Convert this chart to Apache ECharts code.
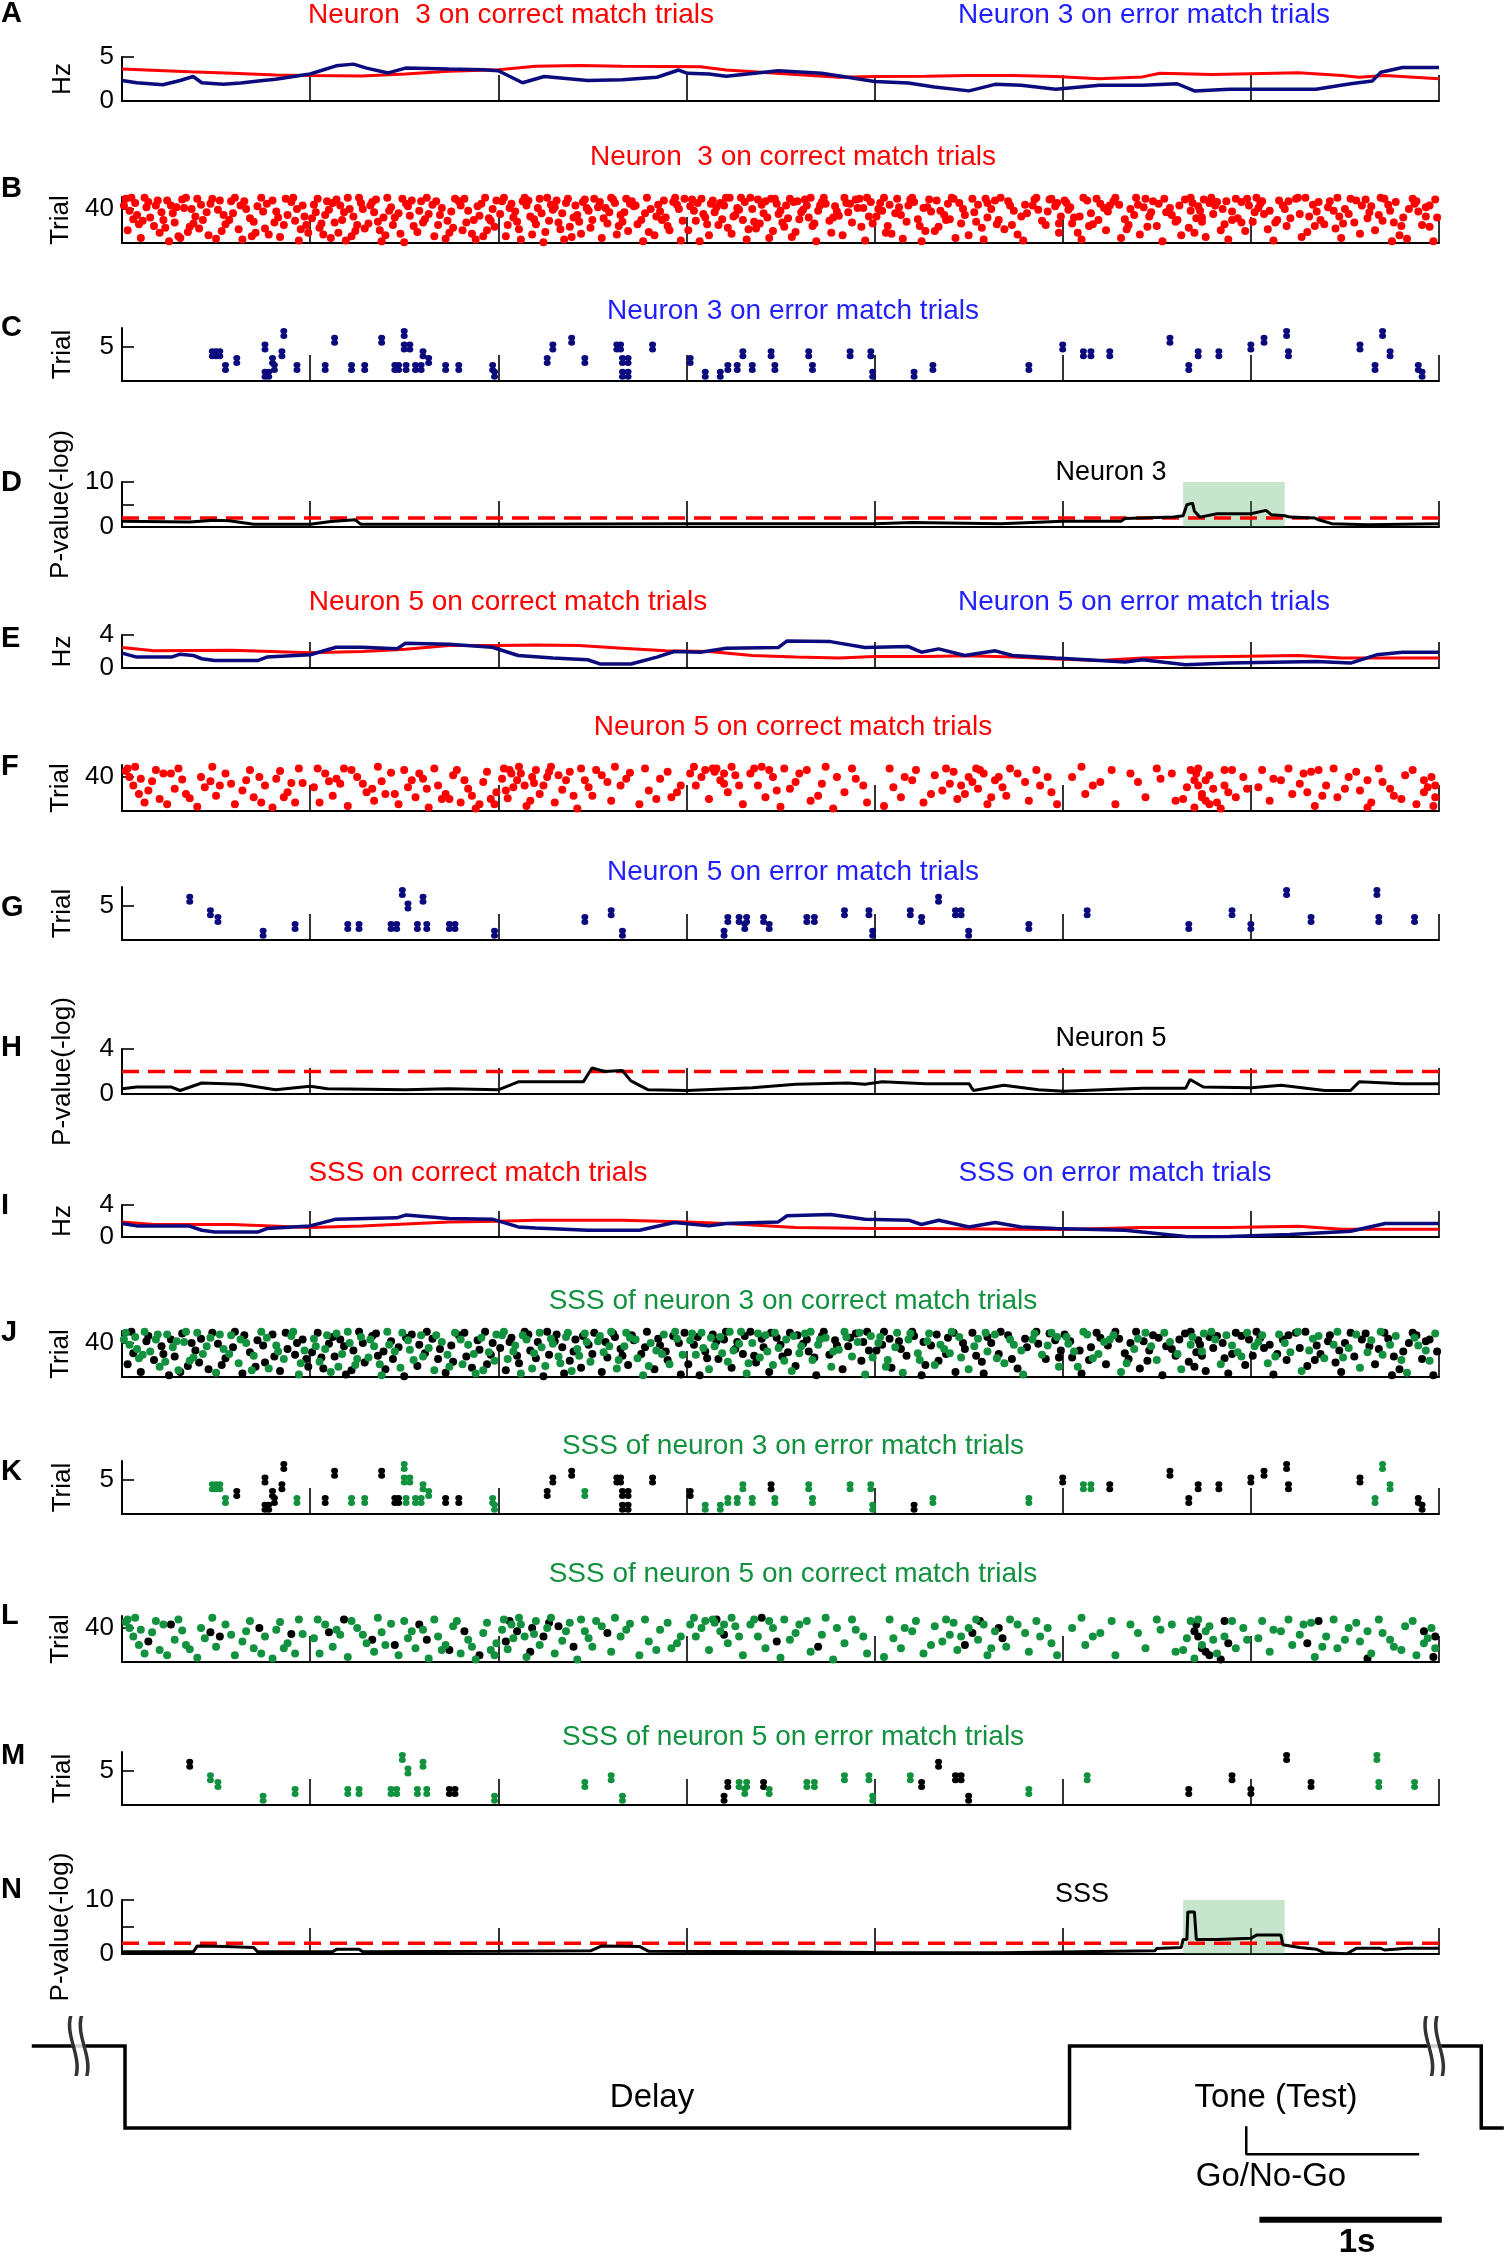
<!DOCTYPE html>
<html><head><meta charset="utf-8">
<script src="https://cdn.jsdelivr.net/npm/echarts@6/dist/echarts.min.js"></script>
<style>html,body{margin:0;padding:0;background:#fff}#c{width:1504px;height:2256px}</style>
</head><body><div id="c"></div><script>
const FONT = '"Liberation Sans", Arial, Helvetica, sans-serif';
const RED = '#ff0000', NAVY = '#0b0b7e', BLUE = '#1f1fff', GREEN = '#12913f', BLACK = '#000000';

// ---------- firing rates (time s, Hz) ----------
const rateA_correct = [[0,3.63],[0.355,3.33],[0.585,3.15],[0.816,2.96],[1.0,2.89],[1.276,2.85],[1.507,3.07],[1.737,3.37],[2.0,3.56],[2.198,3.96],[2.429,4.04],[2.659,3.96],[2.889,3.93],[3.074,3.89],[3.212,3.52],[3.396,3.26],[3.581,3.0],[3.811,2.7],[4.0,2.78],[4.272,2.81],[4.502,2.89],[4.733,2.89],[4.963,2.78],[5.194,2.52],[5.424,2.74],[5.516,3.15],[5.793,3.0],[6.0,3.1],[6.253,3.2],[6.484,2.89],[6.576,2.7],[6.714,2.89],[7.0,2.52]];
const rateA_error = [[0,2.33],[0.078,2.07],[0.217,1.85],[0.309,2.33],[0.378,2.78],[0.424,2.07],[0.539,1.89],[0.631,2.04],[0.724,2.26],[0.816,2.48],[1.0,3.07],[1.138,4.0],[1.23,4.19],[1.3,3.74],[1.415,3.19],[1.507,3.74],[1.737,3.63],[1.922,3.56],[2.0,3.44],[2.129,2.07],[2.244,2.78],[2.475,2.33],[2.659,2.41],[2.843,2.7],[2.959,3.52],[3.005,3.15],[3.12,3.07],[3.212,2.81],[3.488,3.44],[3.719,3.15],[3.857,2.7],[4.0,2.22],[4.18,2.04],[4.318,1.59],[4.502,1.15],[4.641,1.89],[4.779,1.78],[4.963,1.33],[5.194,1.78],[5.424,1.78],[5.608,1.96],[5.7,1.15],[5.885,1.33],[6.346,1.33],[6.53,1.96],[6.645,2.26],[6.691,3.26],[6.806,3.81],[7.0,3.81]];
const rateE_correct = [[0,2.48],[0.171,2.08],[0.585,2.16],[1.0,1.84],[1.276,2.0],[1.507,2.28],[1.737,2.72],[2.0,2.72],[2.198,2.8],[2.429,2.72],[2.659,2.4],[2.889,2.08],[3.12,2.0],[3.35,1.52],[3.581,1.32],[3.811,1.2],[4.0,1.4],[4.272,1.4],[4.502,1.48],[4.733,1.32],[4.963,1.08],[5.194,0.92],[5.424,1.2],[5.654,1.32],[5.885,1.4],[6.253,1.52],[6.484,1.2],[6.714,1.2],[7.0,1.2]];
const rateE_error = [[0,1.8],[0.078,1.32],[0.263,1.32],[0.309,1.68],[0.378,1.52],[0.424,1.12],[0.493,0.92],[0.724,0.92],[0.77,1.32],[1.0,1.6],[1.138,2.52],[1.276,2.52],[1.461,2.32],[1.507,3.0],[1.737,2.88],[1.968,2.52],[2.106,1.52],[2.29,1.2],[2.475,1.0],[2.544,0.48],[2.705,0.48],[2.843,1.32],[2.935,2.0],[3.074,1.92],[3.212,2.4],[3.488,2.48],[3.535,3.28],[3.765,3.2],[3.949,2.48],[4.18,2.6],[4.249,1.92],[4.341,2.32],[4.479,1.52],[4.641,2.08],[4.733,1.52],[4.963,1.2],[5.332,0.72],[5.424,1.0],[5.654,0.4],[5.885,0.6],[6.346,0.8],[6.53,0.6],[6.668,1.6],[6.806,1.92],[7.0,1.92]];
const rateI_correct = [[0,1.89],[0.171,1.56],[0.585,1.56],[1.0,1.18],[1.276,1.39],[1.737,1.89],[2.0,1.98],[2.198,2.1],[2.659,2.1],[3.005,1.89],[3.212,1.68],[3.581,1.18],[4.0,1.05],[4.272,1.05],[4.733,0.97],[5.005,0.93],[5.424,1.18],[5.885,1.18],[6.253,1.35],[6.484,0.97],[6.714,0.97],[7.0,0.97]];
const rateI_error = [[0,1.68],[0.078,1.39],[0.355,1.39],[0.424,0.84],[0.493,0.63],[0.724,0.63],[0.77,1.05],[1.0,1.39],[1.138,2.23],[1.461,2.4],[1.507,2.74],[1.737,2.32],[1.968,2.23],[2.106,1.26],[2.198,1.14],[2.475,0.84],[2.751,0.84],[2.935,1.81],[3.12,1.39],[3.212,1.68],[3.488,1.89],[3.535,2.65],[3.765,2.82],[3.949,2.23],[4.18,2.1],[4.249,1.56],[4.341,2.1],[4.502,1.26],[4.641,1.81],[4.779,1.26],[4.963,1.05],[5.332,0.84],[5.654,0.05],[5.7,0.02],[5.885,0.05],[6.207,0.3],[6.53,0.72],[6.714,1.68],[7.0,1.68]];

// ---------- p-values (-log) ----------
const pvalD = [[0,1.3],[0.36,1.1],[0.49,1.5],[0.57,1.4],[0.7,0.6],[1.0,0.6],[1.11,1.2],[1.24,1.6],[1.27,0.6],[2.0,0.6],[3.0,0.7],[4.0,0.7],[4.2,1.0],[4.67,0.74],[5.0,1.26],[5.31,1.26],[5.33,1.9],[5.59,2.2],[5.64,2.5],[5.66,4.96],[5.69,5.3],[5.7,3.5],[5.73,2.2],[5.82,2.96],[6.0,2.96],[6.08,3.7],[6.11,2.7],[6.18,2.5],[6.21,2.2],[6.34,2.0],[6.36,1.6],[6.43,0.74],[6.62,0.5],[7.0,0.74]];
const pvalH = [[0,0.46],[0.078,0.62],[0.263,0.62],[0.309,0.31],[0.424,0.98],[0.631,0.86],[0.816,0.37],[1.0,0.68],[1.092,0.46],[1.507,0.37],[1.737,0.46],[2.0,0.37],[2.106,1.08],[2.452,1.08],[2.498,2.31],[2.567,2.0],[2.659,2.09],[2.705,1.17],[2.797,0.37],[3.005,0.31],[3.35,0.55],[3.581,0.86],[3.857,0.98],[3.949,0.86],[4.041,1.08],[4.272,0.92],[4.502,0.92],[4.525,0.31],[4.687,0.77],[4.871,0.37],[5.005,0.25],[5.424,0.52],[5.654,0.52],[5.677,1.29],[5.747,0.62],[6.005,0.55],[6.161,0.77],[6.392,0.31],[6.53,0.31],[6.576,1.08],[6.806,0.92],[7.0,0.92]];
const pvalN = [[0,0.43],[0.38,0.43],[0.4,1.5],[0.55,1.4],[0.7,1.2],[0.72,0.43],[1.12,0.43],[1.14,0.86],[1.26,0.86],[1.28,0.43],[2.0,0.5],[2.49,0.6],[2.55,1.5],[2.75,1.4],[2.8,0.5],[3.5,0.4],[4.0,0.3],[4.67,0.25],[5.49,0.6],[5.5,1.0],[5.63,1.2],[5.64,2.7],[5.66,2.7],[5.665,7.8],[5.7,7.8],[5.71,2.7],[5.82,2.7],[5.83,2.9],[6.0,2.9],[6.03,3.5],[6.16,3.5],[6.17,1.7],[6.21,1.5],[6.26,1.2],[6.35,0.86],[6.39,0.25],[6.51,0.05],[6.56,1.05],[6.69,1.05],[6.71,0.74],[6.83,1.05],[7.0,1.05]];
const pThreshold = 2;
const sigWindow = [5.64, 6.18];

// ---------- rasters (time s, trial) ----------
// Neuron 3, correct match trials: spikes belonging to the SSS / other spikes
const n3CorrectSSS = [
[0.02,52],[0.04,38],[0.07,47],[0.09,22],[0.12,53],[0.15,30],[0.18,44],[0.2,12],[0.24,50],[0.27,35],[0.3,8],[0.33,41],[0.36,19],[0.4,52],[0.43,27],[0.47,46],[0.5,5],[0.54,33],[0.58,49],[0.62,16],[0.66,40],[0.7,25],[0.74,53],[0.78,10],[0.82,37],[0.86,21],[0.9,48],[0.94,3],[0.97,31],
[0.01,44],[0.08,33],[0.11,26],[0.19,50],[0.23,18],[0.29,42],[0.34,53],[0.38,23],[0.45,36],[0.52,50],[0.57,27],[0.63,44],[0.69,8],[0.77,46],[0.83,30],[0.91,53],[0.95,16],
[1.02,45],[1.05,18],[1.08,33],[1.11,6],[1.14,51],[1.17,27],[1.21,40],[1.24,14],[1.27,47],[1.31,23],[1.34,36],[1.38,2],[1.41,53],[1.45,30],[1.48,11],[1.52,43],[1.55,20],[1.59,49],[1.63,34],[1.66,8],[1.7,41],[1.73,26],[1.77,52],[1.81,15],[1.84,38],[1.88,4],[1.91,46],[1.95,29],[1.98,19],
[1.03,36],[1.09,49],[1.15,12],[1.2,53],[1.25,21],[1.32,44],[1.37,15],[1.42,38],[1.49,52],[1.53,32],[1.6,24],[1.67,49],[1.74,12],[1.8,44],[1.87,27],[1.92,8],[1.99,50],
[2.02,49],[2.05,21],[2.09,37],[2.12,4],[2.15,44],[2.19,28],[2.22,52],[2.25,13],[2.29,39],[2.32,24],[2.36,47],[2.39,7],[2.42,33],[2.46,51],[2.49,18],[2.53,42],[2.56,29],[2.6,53],[2.63,10],[2.67,36],[2.7,46],[2.74,22],[2.77,2],[2.81,40],[2.84,31],[2.88,50],[2.91,15],[2.95,45],[2.98,26],
[2.03,53],[2.08,30],[2.13,49],[2.18,10],[2.23,35],[2.28,45],[2.33,16],[2.37,52],[2.43,25],[2.47,41],[2.54,48],[2.59,36],[2.64,20],[2.68,52],[2.73,44],[2.8,13],[2.87,27],[2.94,53],
[3.02,43],[3.05,26],[3.08,52],[3.12,9],[3.15,36],[3.18,47],[3.22,18],[3.25,31],[3.29,53],[3.32,4],[3.35,40],[3.39,23],[3.42,49],[3.46,14],[3.49,34],[3.53,44],[3.56,7],[3.6,28],[3.63,51],[3.67,20],[3.7,38],[3.74,46],[3.77,12],[3.81,32],[3.84,53],[3.88,24],[3.91,41],[3.95,3],[3.98,48],
[3.03,51],[3.09,34],[3.13,46],[3.19,28],[3.23,53],[3.28,39],[3.33,16],[3.38,51],[3.43,30],[3.47,52],[3.52,19],[3.57,48],[3.61,36],[3.66,53],[3.71,44],[3.78,30],[3.85,47],[3.92,52],[3.99,23],
[4.03,47],[4.07,20],[4.11,35],[4.15,5],[4.19,51],[4.23,28],[4.28,42],[4.32,14],[4.37,33],[4.41,53],[4.46,23],[4.5,9],[4.55,45],[4.6,30],[4.64,50],[4.69,16],[4.74,38],[4.79,3],[4.84,44],[4.89,26],[4.94,52],[4.98,12],
[4.02,40],[4.06,12],[4.12,52],[4.18,44],[4.24,20],[4.29,51],[4.35,38],[4.4,28],[4.45,47],[4.53,36],[4.59,52],[4.65,22],[4.72,44],[4.78,31],[4.85,51],[4.92,37],[4.97,47],
[5.03,39],[5.08,12],[5.13,50],[5.19,27],[5.25,44],[5.31,6],[5.38,33],[5.44,52],[5.5,20],[5.57,41],[5.63,9],[5.69,47],[5.74,30],[5.79,53],[5.84,15],[5.9,37],[5.95,24],
[5.02,47],[5.06,30],[5.11,53],[5.16,22],[5.22,41],[5.27,49],[5.34,16],[5.4,45],[5.47,36],[5.54,52],[5.61,27],[5.68,38],[5.75,51],[5.81,44],[5.87,49],[5.93,29],[5.98,52],
[6.04,41],[6.09,16],[6.15,50],[6.21,29],[6.27,7],[6.33,45],[6.39,22],[6.46,53],[6.52,34],[6.58,11],[6.64,43],[6.7,26],[6.77,48],[6.83,5],[6.89,37],[6.95,19],
[6.02,36],[6.06,49],[6.13,24],[6.18,40],[6.25,53],[6.31,31],[6.36,48],[6.44,38],[6.49,23],[6.56,50],[6.62,29],[6.69,53],[6.74,38],[6.8,20],[6.87,46],[6.93,31],[6.98,51]];
const n3CorrectOther = [
[0.03,15],[0.06,28],[0.1,6],[0.13,42],[0.17,20],[0.21,36],[0.25,2],[0.28,24],[0.32,51],[0.35,13],[0.39,31],[0.42,45],[0.46,9],[0.51,39],[0.55,22],[0.6,53],[0.64,4],[0.68,29],[0.72,43],[0.76,17],[0.8,50],[0.84,7],[0.88,33],[0.92,26],[0.96,44],[0.99,12],
[0.05,53],[0.14,48],[0.22,27],[0.26,44],[0.31,6],[0.37,40],[0.41,17],[0.48,52],[0.53,14],[0.59,35],[0.65,49],[0.71,12],[0.75,37],[0.81,24],[0.87,52],[0.93,40],[0.98,21],
[1.01,29],[1.04,52],[1.07,10],[1.1,39],[1.13,24],[1.16,44],[1.19,3],[1.23,31],[1.26,53],[1.29,17],[1.33,48],[1.36,25],[1.4,9],[1.43,42],[1.47,35],[1.5,1],[1.54,50],[1.57,13],[1.61,28],[1.65,45],[1.68,21],[1.72,5],[1.75,37],[1.79,49],[1.83,24],[1.86,11],[1.9,32],[1.93,53],[1.97,40],
[1.06,23],[1.12,47],[1.18,36],[1.22,8],[1.28,40],[1.35,51],[1.39,30],[1.44,21],[1.51,46],[1.58,38],[1.62,53],[1.69,33],[1.76,18],[1.82,52],[1.89,43],[1.94,15],[1.96,26],
[2.01,34],[2.04,8],[2.07,46],[2.11,16],[2.14,53],[2.17,31],[2.21,41],[2.24,1],[2.27,26],[2.31,50],[2.34,35],[2.38,19],[2.41,44],[2.44,11],[2.48,38],[2.51,52],[2.55,6],[2.58,23],[2.62,47],[2.65,33],[2.69,14],[2.72,43],[2.76,27],[2.79,53],[2.83,9],[2.86,37],[2.9,20],[2.93,48],[2.97,3],
[2.06,41],[2.1,25],[2.16,50],[2.2,22],[2.26,53],[2.3,42],[2.35,4],[2.4,30],[2.45,48],[2.5,27],[2.57,41],[2.61,51],[2.66,25],[2.71,49],[2.78,35],[2.85,45],[2.89,30],[2.96,40],[2.99,52],
[3.01,15],[3.04,38],[3.07,2],[3.1,30],[3.14,50],[3.17,21],[3.2,44],[3.24,11],[3.27,41],[3.3,27],[3.34,53],[3.37,17],[3.41,35],[3.44,6],[3.48,46],[3.51,24],[3.55,52],[3.58,13],[3.62,39],[3.65,30],[3.69,2],[3.72,48],[3.76,26],[3.79,43],[3.83,9],[3.86,36],[3.9,51],[3.93,19],[3.97,31],
[3.06,47],[3.11,22],[3.16,42],[3.21,53],[3.26,33],[3.31,48],[3.36,25],[3.4,45],[3.45,52],[3.5,38],[3.54,29],[3.59,49],[3.64,44],[3.68,23],[3.73,53],[3.8,37],[3.87,46],[3.94,41],[3.96,53],
[4.01,31],[4.05,53],[4.09,11],[4.13,42],[4.17,25],[4.21,48],[4.25,2],[4.27,14],[4.3,37],[4.34,19],[4.39,46],[4.43,6],[4.48,33],[4.52,52],[4.57,18],[4.58,4],[4.62,40],[4.66,27],[4.71,49],[4.76,10],[4.81,35],[4.86,53],[4.91,21],[4.96,43],[4.99,31],
[4.04,38],[4.08,45],[4.14,33],[4.2,53],[4.26,41],[4.33,50],[4.38,27],[4.42,52],[4.47,40],[4.54,25],[4.6,47],[4.67,53],[4.73,21],[4.8,45],[4.87,39],[4.93,51],[4.98,23],
[5.01,50],[5.05,23],[5.1,4],[5.15,35],[5.2,46],[5.23,15],[5.28,53],[5.33,28],[5.36,40],[5.41,10],[5.45,19],[5.46,31],[5.48,49],[5.53,2],[5.55,36],[5.6,25],[5.65,51],[5.67,18],[5.71,29],[5.72,43],[5.73,38],[5.76,7],[5.8,34],[5.82,48],[5.86,22],[5.88,4],[5.92,52],[5.97,14],[5.99,44],
[5.04,42],[5.09,31],[5.14,20],[5.18,52],[5.24,37],[5.3,45],[5.35,21],[5.39,53],[5.43,42],[5.51,46],[5.58,33],[5.62,44],[5.68,53],[5.7,12],[5.74,25],[5.78,47],[5.85,40],[5.9,27],[5.95,48],
[6.01,25],[6.03,53],[6.07,34],[6.12,3],[6.17,44],[6.19,20],[6.24,52],[6.3,13],[6.35,37],[6.37,27],[6.42,49],[6.45,17],[6.48,6],[6.5,40],[6.55,24],[6.61,51],[6.66,15],[6.68,33],[6.73,45],[6.75,2],[6.79,9],[6.81,30],[6.86,52],[6.91,21],[6.93,42],[6.97,2],[6.99,30],
[6.05,46],[6.1,38],[6.14,27],[6.2,49],[6.26,34],[6.29,53],[6.34,20],[6.41,42],[6.47,31],[6.53,52],[6.59,44],[6.63,36],[6.71,52],[6.76,24],[6.84,40],[6.88,49],[6.95,44]];
// Neuron 3, error match trials
const n3ErrorSSS = [[0.48,4],[0.5,4],[0.52,4],[0.55,2],[0.93,2],[1.22,2],[1.29,2],[1.5,7],[1.5,5],[1.51,2],[1.53,5],[1.56,2],[1.59,2],[1.6,4],[1.63,3],[1.97,2],[1.98,1],[2.46,3],[3.1,1],[3.18,1],[3.22,2],[3.27,2],[3.3,4],[3.35,2],[3.47,2],[3.65,4],[3.67,2],[3.87,4],[3.98,4],[3.99,1],[4.31,2],[4.82,2],[5.11,4],[5.15,4],[6.66,2],[6.7,7],[6.74,4]];
const n3ErrorOther = [[0.61,3],[0.76,5],[0.76,1],[0.78,1],[0.8,3],[0.81,2],[0.85,4],[0.86,7],[1.08,2],[1.13,6],[1.38,6],[1.45,2],[1.47,2],[1.72,2],[1.79,2],[2.26,3],[2.29,5],[2.39,6],[2.63,5],[2.65,5],[2.66,3],[2.66,1],[2.69,1],[2.69,3],[2.82,5],[3.02,3],[3.45,4],[4.21,1],[5.0,5],[5.25,4],[5.57,6],[5.67,2],[5.72,4],[5.83,4],[6.0,5],[6.07,6],[6.19,7],[6.2,4],[6.58,5],[6.89,2],[6.91,1]];
// Neuron 5, correct match trials
const n5CorrectSSS = [
[0.02,47],[0.04,40],[0.06,30],[0.09,20],[0.12,10],[0.16,35],[0.2,14],[0.24,8],[0.28,26],[0.32,37],[0.36,15],[0.4,5],[0.44,28],[0.5,18],[0.55,44],[0.6,8],[0.66,36],[0.7,16],[0.76,30],[0.8,4],[0.84,47],[0.88,22],[0.92,10],[0.96,33],
[0.03,50],[0.07,52],[0.1,38],[0.18,48],[0.22,44],[0.3,50],[0.34,20],[0.42,40],[0.48,52],[0.58,32],[0.64,24],[0.68,48],[0.74,10],[0.82,38],[0.86,16],[0.94,50],
[1.02,28],[1.05,10],[1.08,44],[1.12,18],[1.16,32],[1.2,6],[1.25,40],[1.3,22],[1.34,12],[1.38,35],[1.43,45],[1.47,8],[1.52,28],[1.56,16],[1.6,38],[1.63,4],[1.68,30],[1.72,20],[1.76,42],[1.8,10],[1.84,26],[1.88,3],[1.92,34],[1.96,14],[1.99,22],
[1.04,50],[1.14,38],[1.22,48],[1.28,32],[1.36,52],[1.4,20],[1.5,48],[1.54,36],[1.66,50],[1.7,14],[1.78,48],[1.86,18],[1.94,46],[1.98,8],
[2.02,38],[2.05,15],[2.08,28],[2.12,44],[2.15,6],[2.19,33],[2.22,20],[2.26,40],[2.3,10],[2.34,25],[2.38,46],[2.42,3],[2.46,36],[2.5,18],[2.55,42],[2.6,12],[2.65,30],[2.7,45],[2.75,8],[2.8,24],[2.86,38],[2.92,16],[2.97,30],
[2.03,50],[2.07,44],[2.11,52],[2.14,30],[2.2,48],[2.28,52],[2.36,36],[2.44,50],[2.48,28],[2.52,48],[2.62,52],[2.68,38],[2.78,50],[2.84,14],[2.9,46],[2.95,22],
[3.02,44],[3.05,30],[3.08,40],[3.12,14],[3.15,46],[3.18,36],[3.22,22],[3.26,42],[3.3,8],[3.34,44],[3.38,30],[3.42,16],[3.46,40],[3.5,5],[3.55,26],[3.6,44],[3.66,12],[3.72,32],[3.78,3],[3.84,22],[3.9,38],[3.96,10],
[3.04,52],[3.1,48],[3.14,50],[3.2,44],[3.24,52],[3.28,30],[3.36,50],[3.44,48],[3.52,50],[3.58,34],[3.64,48],[3.74,52],[3.8,40],[3.88,50],[3.94,30],
[4.05,6],[4.1,28],[4.14,16],[4.2,36],[4.26,10],[4.32,42],[4.36,24],[4.4,32],[4.44,14],[4.5,40],[4.55,26],[4.6,8],[4.64,36],[4.7,18],[4.76,44],[4.82,12],[4.88,30],[4.94,22],
[4.08,50],[4.16,40],[4.22,48],[4.3,20],[4.38,50],[4.42,46],[4.46,30],[4.54,50],[4.58,44],[4.62,16],[4.72,50],[4.8,34],[4.86,48],[4.92,40],[4.97,8],
[5.05,40],[5.12,20],[5.2,34],[5.28,8],[5.36,44],[5.44,16],[5.52,38],[5.6,12],[5.66,28],[5.7,4],[5.74,20],[5.78,42],[5.82,10],[5.86,30],[5.92,16],[5.96,40],
[5.1,52],[5.16,30],[5.26,48],[5.4,34],[5.5,50],[5.58,44],[5.64,14],[5.68,48],[5.72,50],[5.76,36],[5.8,26],[5.9,48],[5.98,26],
[6.04,28],[6.1,12],[6.16,36],[6.22,20],[6.28,44],[6.34,6],[6.4,30],[6.46,16],[6.52,40],[6.58,24],[6.64,10],[6.7,34],[6.76,18],[6.82,42],[6.88,8],[6.94,28],[6.98,16],
[6.06,48],[6.12,38],[6.2,50],[6.26,32],[6.32,46],[6.38,18],[6.44,50],[6.5,26],[6.56,46],[6.62,36],[6.68,50],[6.74,26],[6.8,14],[6.86,48],[6.92,22],[6.96,40]];
const n5CorrectOther = [[0.14,24],[0.47,35],[0.73,40],[0.9,33],[0.26,44],[0.52,30],[1.1,35],[1.33,26],[1.45,20],[1.58,44],[1.74,14],[1.9,8],[1.18,50],[1.62,26],[1.82,36],[2.04,24],[2.1,36],[2.17,12],[2.24,30],[2.32,42],[2.4,18],[2.58,34],[2.06,48],[2.18,40],[2.27,46],[3.2,32],[3.48,24],[3.7,18],[3.16,50],[3.4,52],[4.48,20],[4.52,34],[4.68,28],[4.56,48],[4.66,40],[5.7,36],[5.72,30],[5.76,12],[5.84,3],[5.88,22],[5.71,44],[5.74,16],[5.86,48],[5.78,8],[6.3,22],[6.62,4],[6.92,36],[6.97,6],[6.36,48],[6.98,30]];
// Neuron 5, error match trials
const n5ErrorSSS = [[0.47,4],[0.51,3],[0.75,1],[0.92,2],[1.2,2],[1.26,2],[1.43,2],[1.46,2],[1.49,7],[1.52,5],[1.57,2],[1.6,6],[1.62,2],[1.98,1],[2.46,3],[2.6,4],[2.66,1],[3.28,3],[3.32,3],[3.31,2],[3.44,2],[3.64,3],[3.68,3],[3.84,4],[3.97,4],[3.99,1],[4.19,4],[4.82,2],[5.13,4],[6.67,7],[6.68,3],[6.87,3]];
const n5ErrorOther = [[0.36,6],[1.74,2],[1.77,2],[3.2,1],[3.22,3],[3.41,3],[4.25,3],[4.34,6],[4.43,4],[4.46,4],[4.5,1],[5.67,2],[5.9,4],[6.0,2],[6.19,7],[6.32,3]];

// ---------- task timing schematic ----------
const timingX = [-0.48, 0.016, 0.016, 5.04, 5.04, 7.23, 7.23, 7.35];
const timingY = [1, 1, 0, 0, 1, 1, 0, 0];
const breakX = [-0.23, 6.98];
const goNoGoX = [5.98, 5.98, 6.9];
const goNoGoY = [0.02, -0.32, -0.32];
const scaleBarX = [6.05, 7.02];
const scaleBarY = -1.12;

// ---------- layout ----------
const panels = [
  {id:'A', top:57,  bottom:101,  max:5,   labels:[0,5],  ticks:[5],    name:'Hz'},
  {id:'B', top:197, bottom:243,  max:54,  labels:[40],   ticks:[40],   name:'Trial'},
  {id:'C', top:328, bottom:381,  max:7.8, labels:[5],    ticks:[5],    name:'Trial'},
  {id:'D', top:482, bottom:527,  max:10,  labels:[0,10], ticks:[5,10], name:'P-value(-log)'},
  {id:'E', top:635, bottom:668,  max:4,   labels:[0,4],  ticks:[4],    name:'Hz'},
  {id:'F', top:765, bottom:811,  max:54,  labels:[40],   ticks:[40],   name:'Trial'},
  {id:'G', top:887, bottom:940,  max:7.8, labels:[5],    ticks:[5],    name:'Trial'},
  {id:'H', top:1049,bottom:1094, max:4,   labels:[0,4],  ticks:[4],    name:'P-value(-log)'},
  {id:'I', top:1205,bottom:1237, max:4,   labels:[0,4],  ticks:[4],    name:'Hz'},
  {id:'J', top:1331,bottom:1377, max:54,  labels:[40],   ticks:[40],   name:'Trial'},
  {id:'K', top:1461,bottom:1514, max:7.8, labels:[5],    ticks:[5],    name:'Trial'},
  {id:'L', top:1616,bottom:1662, max:54,  labels:[40],   ticks:[40],   name:'Trial'},
  {id:'M', top:1752,bottom:1805, max:7.8, labels:[5],    ticks:[5],    name:'Trial'},
  {id:'N', top:1900,bottom:1954, max:10,  labels:[0,10], ticks:[5,10], name:'P-value(-log)'}
];
const letterY = {A:14,B:189,C:328,D:483,E:639,F:767,G:908,H:1048,I:1206,J:1333,K:1472,L:1616,M:1756,N:1890};

const grids = [], xAxes = [], yAxes = [], series = [];
panels.forEach((p, i) => {
  grids.push({left:122, width:1317, top:p.top, height:p.bottom - p.top});
  xAxes.push({type:'value', gridIndex:i, min:0, max:7, interval:1,
    axisLine:{show:true, onZero:false, lineStyle:{color:BLACK, width:2}},
    axisTick:{show:true, inside:true, length:26, lineStyle:{color:BLACK, width:1.6}},
    axisLabel:{show:false}, splitLine:{show:false}});
  yAxes.push({type:'value', gridIndex:i, min:0, max:p.max,
    axisLine:{show:true, onZero:false, lineStyle:{color:BLACK, width:2}},
    axisTick:{show:true, inside:true, length:12, customValues:p.ticks, lineStyle:{color:BLACK, width:1.6}},
    axisLabel:{show:true, customValues:p.labels, fontSize:26, fontFamily:FONT, color:BLACK, margin:8},
    splitLine:{show:false},
    name:p.name, nameLocation:'middle', nameGap:46,
    nameTextStyle:{fontSize:26, fontFamily:FONT, color:BLACK}});
});
const idx = id => panels.findIndex(p => p.id === id);

function rateLine(id, data, color, w){
  series.push({type:'line', xAxisIndex:idx(id), yAxisIndex:idx(id), data, showSymbol:false,
    lineStyle:{color, width:w}, silent:true, animation:false, z:3});
}
function pLine(id, data, shade){
  const i = idx(id);
  series.push({type:'line', xAxisIndex:i, yAxisIndex:i, data:[[0,pThreshold],[7,pThreshold]], showSymbol:false,
    lineStyle:{color:RED, width:3.5, type:[17,9]}, silent:true, animation:false, z:2});
  series.push({type:'line', xAxisIndex:i, yAxisIndex:i, data, showSymbol:false,
    lineStyle:{color:BLACK, width:3}, silent:true, animation:false, z:3});
  if (shade) {
    series.push({type:'line', xAxisIndex:i, yAxisIndex:i, data:[[sigWindow[0],0]], showSymbol:false,
      lineStyle:{opacity:0}, silent:true, animation:false, z:5,
      markArea:{silent:true, itemStyle:{color:'rgba(70,170,85,0.30)'},
        data:[[{xAxis:sigWindow[0], yAxis:0},{xAxis:sigWindow[1], yAxis:10}]]}});
  }
}
const PAIR = 'path://M0,3A3,3 0 1 1 6,3A3,3 0 1 1 0,3ZM0,8A3,3 0 1 1 6,8A3,3 0 1 1 0,8Z';
function raster(id, data, color, pair){
  series.push({type:'scatter', xAxisIndex:idx(id), yAxisIndex:idx(id), data,
    symbol: pair ? PAIR : 'circle', symbolSize: pair ? [7,11] : 8,
    itemStyle:{color, opacity:1}, silent:true, animation:false, z:3});
}

rateLine('A', rateA_correct, RED, 3); rateLine('A', rateA_error, NAVY, 3.5);
raster('B', n3CorrectSSS.concat(n3CorrectOther), RED, false);
raster('C', n3ErrorSSS.concat(n3ErrorOther), NAVY, true);
pLine('D', pvalD, true);
rateLine('E', rateE_correct, RED, 3); rateLine('E', rateE_error, NAVY, 3.5);
raster('F', n5CorrectSSS.concat(n5CorrectOther), RED, false);
raster('G', n5ErrorSSS.concat(n5ErrorOther), NAVY, true);
pLine('H', pvalH, false);
rateLine('I', rateI_correct, RED, 3); rateLine('I', rateI_error, NAVY, 3.5);
raster('J', n3CorrectOther, BLACK, false); raster('J', n3CorrectSSS, GREEN, false);
raster('K', n3ErrorOther, BLACK, true); raster('K', n3ErrorSSS, GREEN, true);
raster('L', n5CorrectOther, BLACK, false); raster('L', n5CorrectSSS, GREEN, false);
raster('M', n5ErrorOther, BLACK, true); raster('M', n5ErrorSSS, GREEN, true);
pLine('N', pvalN, true);

// timing schematic grid
const T = panels.length;
grids.push({left:0, width:1504, top:2037.8, height:196.8});
xAxes.push({type:'value', gridIndex:T, min:-0.649, max:7.351, show:false});
yAxes.push({type:'value', gridIndex:T, min:-1.3, max:1.1, show:false});
series.push({type:'line', xAxisIndex:T, yAxisIndex:T, data:timingX.map((x,k)=>[x,timingY[k]]),
  showSymbol:false, lineStyle:{color:BLACK, width:3.5, join:'miter'}, silent:true, animation:false});
series.push({type:'line', xAxisIndex:T, yAxisIndex:T, data:goNoGoX.map((x,k)=>[x,goNoGoY[k]]),
  showSymbol:false, lineStyle:{color:BLACK, width:2.5}, silent:true, animation:false});
series.push({type:'line', xAxisIndex:T, yAxisIndex:T, data:scaleBarX.map(x=>[x,scaleBarY]),
  showSymbol:false, lineStyle:{color:BLACK, width:6}, silent:true, animation:false});
// axis-break marks: white gap then two black wavy strokes (same outer bounds)
series.push({type:'scatter', xAxisIndex:T, yAxisIndex:T, data:breakX.map(x=>[x,1]),
  symbol:'path://M2,0C-2,10 10,20 6,30L16.5,30C20.5,20 8.5,10 12.5,0Z', symbolSize:[22,60],
  itemStyle:{color:'#fff'}, silent:true, animation:false, z:4});
series.push({type:'scatter', xAxisIndex:T, yAxisIndex:T, data:breakX.map(x=>[x,1]),
  symbol:'path://M2,0C-2,10 10,20 6,30L8.6,30C12.6,20 0.6,10 4.6,0ZM9.9,0C5.9,10 17.9,20 13.9,30L16.5,30C20.5,20 8.5,10 12.5,0Z', symbolSize:[22,60],
  itemStyle:{color:BLACK}, silent:true, animation:false, z:5});

// ---------- texts ----------
function txt(text, x, y, size, color, weight){
  return {type:'text', x, y, silent:true, style:{text, fill:color, fontSize:size, fontWeight:weight||'normal', fontFamily:FONT,
    textAlign:'center', textVerticalAlign:'middle', align:'center', verticalAlign:'middle'}};
}
const texts = [
  txt('Neuron  3 on correct match trials', 511, 15, 28, RED),
  txt('Neuron 3 on error match trials', 1144, 15, 28, BLUE),
  txt('Neuron  3 on correct match trials', 793, 157, 28, RED),
  txt('Neuron 3 on error match trials', 793, 311, 28, BLUE),
  txt('Neuron 3', 1111, 473, 27, BLACK),
  txt('Neuron 5 on correct match trials', 508, 602, 28, RED),
  txt('Neuron 5 on error match trials', 1144, 602, 28, BLUE),
  txt('Neuron 5 on correct match trials', 793, 727, 28, RED),
  txt('Neuron 5 on error match trials', 793, 872, 28, BLUE),
  txt('Neuron 5', 1111, 1039, 27, BLACK),
  txt('SSS on correct match trials', 478, 1173, 28, RED),
  txt('SSS on error match trials', 1115, 1173, 28, BLUE),
  txt('SSS of neuron 3 on correct match trials', 793, 1301, 28, GREEN),
  txt('SSS of neuron 3 on error match trials', 793, 1446, 28, GREEN),
  txt('SSS of neuron 5 on correct match trials', 793, 1574, 28, GREEN),
  txt('SSS of neuron 5 on error match trials', 793, 1737, 28, GREEN),
  txt('SSS', 1082, 1895, 27, BLACK),
  txt('Delay', 652, 2098, 33, BLACK),
  txt('Tone (Test)', 1276, 2098, 33, BLACK),
  txt('Go/No-Go', 1271, 2177, 33, BLACK),
  txt('1s', 1357, 2243, 33, BLACK, 'bold')
];
Object.keys(letterY).forEach(k => {
  texts.push({type:'text', x:1, y:letterY[k], silent:true, style:{text:k, fill:BLACK, fontSize:29, fontWeight:'bold', fontFamily:FONT,
    textAlign:'left', textVerticalAlign:'middle', align:'left', verticalAlign:'middle'}});
});

const chart = echarts.init(document.getElementById('c'), null, {renderer:'canvas', width:1504, height:2256});
chart.setOption({backgroundColor:'#fff', animation:false, textStyle:{fontFamily:FONT},
  grid:grids, xAxis:xAxes, yAxis:yAxes, series, graphic:texts});
</script></body></html>
